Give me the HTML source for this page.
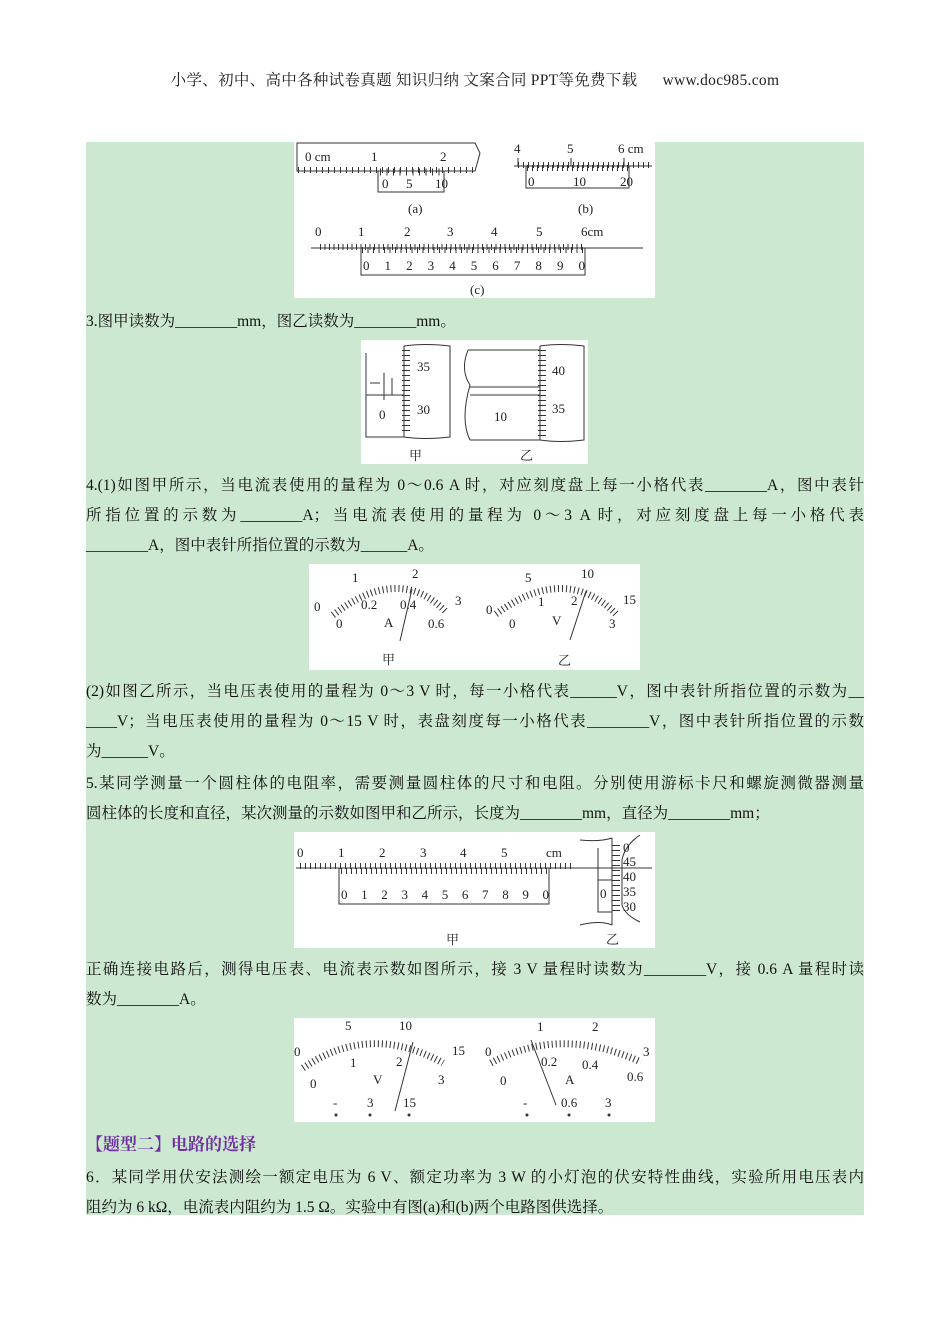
<!DOCTYPE html>
<html><head><meta charset="utf-8"><style>
body{margin:0;width:950px;height:1344px;background:#fff;position:relative;overflow:hidden;font-family:"Liberation Serif","Noto Serif CJK SC",serif;}
.g{position:absolute;left:86px;top:142px;width:778px;height:1073px;background:#cce8d0;}
.t{position:absolute;left:86px;width:778px;font-size:15.5px;line-height:20px;white-space:nowrap;color:#111;}
.j{text-align:justify;text-align-last:justify;}
.h{position:absolute;left:0;width:950px;top:68px;text-align:center;font-size:15.5px;color:#222;letter-spacing:0.3px;}
svg{position:absolute;left:0;top:0;}
svg text{font-family:"Liberation Serif","Noto Serif CJK SC",serif;fill:#222;}
</style></head><body>
<div class="h">小学、初中、高中各种试卷真题 知识归纳 文案合同 PPT等免费下载 &nbsp;&nbsp;&nbsp;&nbsp; www.doc985.com</div>
<div class="g"></div>
<svg width="950" height="1344" viewBox="0 0 950 1344">
<g fill="#fff"><rect x="294" y="142" width="361" height="156"/><rect x="361" y="340" width="227" height="124"/><rect x="309" y="564" width="331" height="106"/><rect x="294" y="832" width="361" height="116"/><rect x="294" y="1018" width="361" height="104"/></g>
<g stroke="#333" fill="none" stroke-width="1">
<path d="M297 143 H475 L480 153 L475 171 H297 Z"/><path d="M298 170 H473" stroke-dasharray="1 5" stroke-width="6"/>
<rect x="378" y="171" width="66" height="21"/><path d="M380 172 H443" stroke-dasharray="1 5.5" stroke-width="7"/>
<path d="M514 166 H652"/><path d="M518 166 V158 M571 166 V158 M624 166 V158"/><path d="M518 165 H650" stroke-dasharray="1 4" stroke-width="6"/>
<rect x="526" y="166" width="103" height="22"/><path d="M527 168 H628" stroke-dasharray="1 4" stroke-width="6"/>
<path d="M311 248 H643"/><path d="M320 247 H585" stroke-dasharray="1 3.5" stroke-width="6"/>
<rect x="361" y="248" width="224" height="27"/><path d="M362 250 H584" stroke-dasharray="1 4.5" stroke-width="6"/>
<path d="M366 353 V437 H404 M366 395 H404 M370 383 H380"/><path d="M384 373 V400 M392 378 V395"/>
<path d="M404 346 V437 Q425 440 450 437 V346 Q425 343 404 346 Z"/><path d="M406 350 V433" stroke-dasharray="1 4" stroke-width="8"/>
<path d="M468 350 Q460 370 470 385 Q460 420 470 440 M468 350 H540 M470 387 H540 M470 395 H540 M470 440 H540"/>
<path d="M540 346 V440 Q560 443 584 440 V346 Q560 343 540 346 Z"/><path d="M542 350 V436" stroke-dasharray="1 4" stroke-width="8"/>
<path d="M333 615 Q400 563 447 613" stroke-width="7" stroke-dasharray="1 3"/><path d="M400 641 L412 589"/>
<path d="M496 614 Q565 563 616 614" stroke-width="7" stroke-dasharray="1 3"/><path d="M570 640 L586 591"/>
<path d="M296 868 H652"/><path d="M300 866 H572" stroke-dasharray="1 4" stroke-width="6"/>
<rect x="339" y="868" width="210" height="36"/><path d="M341 871 H547" stroke-dasharray="1 4" stroke-width="6"/>
<path d="M580 840 Q600 842 612 838 M580 925 Q600 920 612 925 M598 848 V912 H612 M598 880 H612"/><path d="M612 838 V925 M640 835 Q625 845 622 860 V905 Q625 915 640 922"/><path d="M616 845 V915" stroke-width="8" stroke-dasharray="1 4"/>
<path d="M303 1068 Q370 1022 443 1063" stroke-width="7" stroke-dasharray="1 3"/><path d="M395 1111 L413 1042"/>
<path d="M491 1063 Q560 1025 641 1062" stroke-width="7" stroke-dasharray="1 3"/><path d="M556 1105 L531 1040"/>
</g>
<g font-size="13">
<text x="305" y="161">0 cm</text><text x="371" y="161">1</text><text x="440" y="161">2</text><text x="382" y="188">0</text><text x="406" y="188">5</text><text x="435" y="188">10</text>
<text x="408" y="213">(a)</text><text x="578" y="213">(b)</text>
<text x="514" y="153">4</text><text x="567" y="153">5</text><text x="618" y="153">6 cm</text><text x="528" y="186">0</text><text x="573" y="186">10</text><text x="620" y="186">20</text>
<text x="315" y="236">0</text><text x="358" y="236">1</text><text x="404" y="236">2</text><text x="447" y="236">3</text><text x="491" y="236">4</text><text x="536" y="236">5</text><text x="581" y="236">6cm</text>
<text x="363" y="270" textLength="222">0 1 2 3 4 5 6 7 8 9 0</text>
<text x="470" y="294">(c)</text>
<text x="417" y="371">35</text><text x="417" y="414">30</text><text x="379" y="419">0</text><text x="409" y="460">甲</text>
<text x="552" y="375">40</text><text x="552" y="413">35</text><text x="494" y="421">10</text><text x="520" y="460">乙</text>
<text x="352" y="582">1</text><text x="412" y="578">2</text><text x="314" y="611">0</text><text x="455" y="605">3</text><text x="361" y="609">0.2</text><text x="400" y="609">0.4</text><text x="336" y="628">0</text><text x="384" y="627">A</text><text x="428" y="628">0.6</text><text x="382" y="664">甲</text>
<text x="525" y="582">5</text><text x="581" y="578">10</text><text x="486" y="614">0</text><text x="623" y="604">15</text><text x="538" y="606">1</text><text x="571" y="605">2</text><text x="509" y="628">0</text><text x="552" y="625">V</text><text x="609" y="628">3</text><text x="558" y="665">乙</text>
<text x="297" y="857">0</text><text x="338" y="857">1</text><text x="379" y="857">2</text><text x="420" y="857">3</text><text x="460" y="857">4</text><text x="501" y="857">5</text><text x="546" y="857">cm</text>
<text x="341" y="899" textLength="208">0 1 2 3 4 5 6 7 8 9 0</text>
<text x="446" y="944">甲</text><text x="606" y="944">乙</text>
<text x="623" y="852">0</text><text x="623" y="866">45</text><text x="623" y="881">40</text><text x="623" y="896">35</text><text x="623" y="911">30</text><text x="600" y="898">0</text>
<text x="345" y="1030">5</text><text x="399" y="1030">10</text><text x="294" y="1056">0</text><text x="452" y="1055">15</text><text x="350" y="1067">1</text><text x="396" y="1066">2</text><text x="310" y="1088">0</text><text x="373" y="1084">V</text><text x="438" y="1084">3</text>
<text x="333" y="1107">-</text><text x="367" y="1107">3</text><text x="403" y="1107">15</text>
<text x="537" y="1031">1</text><text x="592" y="1031">2</text><text x="485" y="1056">0</text><text x="643" y="1056">3</text><text x="541" y="1066">0.2</text><text x="582" y="1069">0.4</text><text x="500" y="1085">0</text><text x="565" y="1084">A</text><text x="627" y="1081">0.6</text>
<text x="523" y="1107">-</text><text x="561" y="1107">0.6</text><text x="605" y="1107">3</text>
</g>
<g fill="#333"><circle cx="336" cy="1115" r="1.5"/><circle cx="370" cy="1115" r="1.5"/><circle cx="409" cy="1115" r="1.5"/><circle cx="527" cy="1115" r="1.5"/><circle cx="569" cy="1115" r="1.5"/><circle cx="609" cy="1115" r="1.5"/></g>
</svg>
<div class="t" style="top:312px">3.图甲读数为________mm，图乙读数为________mm。</div>
<div class="t j" style="top:476px">4.(1)如图甲所示，当电流表使用的量程为 0～0.6 A 时，对应刻度盘上每一小格代表________A，图中表针</div>
<div class="t j" style="top:506px">所指位置的示数为________A；当电流表使用的量程为 0～3 A 时，对应刻度盘上每一小格代表</div>
<div class="t" style="top:536px">________A，图中表针所指位置的示数为______A。</div>
<div class="t j" style="top:682px">(2)如图乙所示，当电压表使用的量程为 0～3 V 时，每一小格代表______V，图中表针所指位置的示数为__</div>
<div class="t j" style="top:712px">____V；当电压表使用的量程为 0～15 V 时，表盘刻度每一小格代表________V，图中表针所指位置的示数</div>
<div class="t" style="top:742px">为______V。</div>
<div class="t j" style="top:774px">5.某同学测量一个圆柱体的电阻率，需要测量圆柱体的尺寸和电阻。分别使用游标卡尺和螺旋测微器测量</div>
<div class="t" style="top:804px">圆柱体的长度和直径，某次测量的示数如图甲和乙所示，长度为________mm，直径为________mm；</div>
<div class="t j" style="top:960px">正确连接电路后，测得电压表、电流表示数如图所示，接 3 V 量程时读数为________V，接 0.6 A 量程时读</div>
<div class="t" style="top:990px">数为________A。</div>
<div class="t" style="top:1135px;font-size:17px;font-weight:bold;color:#7030a0;">【题型二】电路的选择</div>
<div class="t j" style="top:1168px">6．某同学用伏安法测绘一额定电压为 6 V、额定功率为 3 W 的小灯泡的伏安特性曲线，实验所用电压表内</div>
<div class="t" style="top:1198px">阻约为 6 kΩ，电流表内阻约为 1.5 Ω。实验中有图(a)和(b)两个电路图供选择。</div>
</body></html>
